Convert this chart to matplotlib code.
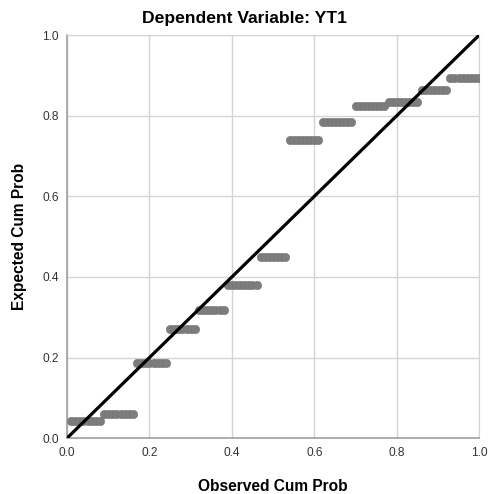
import matplotlib.pyplot as plt
import numpy as np

# tied-residual groups: number of cases and expected cum prob of each group
group_counts = [8, 8, 8, 7, 7, 8, 7, 8, 8, 8, 8, 7, 8]
expected_probs = [0.042, 0.059, 0.186, 0.270, 0.317, 0.379, 0.450,
                  0.740, 0.785, 0.824, 0.834, 0.864, 0.894]
tick_values = [0.0, 0.2, 0.4, 0.6, 0.8, 1.0]

plt.rcParams['font.family'] = ['Liberation Sans', 'DejaVu Sans']

n = sum(group_counts)
observed = np.arange(1, n + 1) / n
expected = np.repeat(expected_probs, group_counts)

fig = plt.figure(figsize=(4.89, 4.94), dpi=100)
ax = fig.add_axes([0.137, 0.113, 0.843, 0.816])

ax.plot(observed, expected, 'o', color='#7d7d7d', markeredgecolor='#737373',
        markeredgewidth=0.4, markersize=6, zorder=3)
ax.plot([0, 1], [0, 1], color='black', linewidth=2.3, zorder=4)

ax.set_xlim(0, 1)
ax.set_ylim(0, 1)
ax.set_xticks(tick_values)
ax.set_yticks(tick_values)
ax.set_xticklabels([f'{v:.1f}' for v in tick_values])
ax.set_yticklabels([f'{v:.1f}' for v in tick_values])
ax.grid(True, color='#d4d4d4', linewidth=1)
ax.set_axisbelow(True)
ax.tick_params(length=0, labelsize=8.6, colors='#333333', pad=6)

for side in ['top', 'right']:
    ax.spines[side].set_color('#d4d4d4')
for side in ['left', 'bottom']:
    ax.spines[side].set_color('#a0a0a0')
    ax.spines[side].set_linewidth(1.2)

ax.set_xlabel('Observed Cum Prob', fontsize=11.2, fontweight='bold', labelpad=15)
ax.set_ylabel('Expected Cum Prob', fontsize=11.2, fontweight='bold', labelpad=11)
fig.text(0.5, 0.962, 'Dependent Variable: YT1', ha='center', va='center',
         fontsize=12.6, fontweight='bold')

fig.savefig('out.png', dpi=100)
